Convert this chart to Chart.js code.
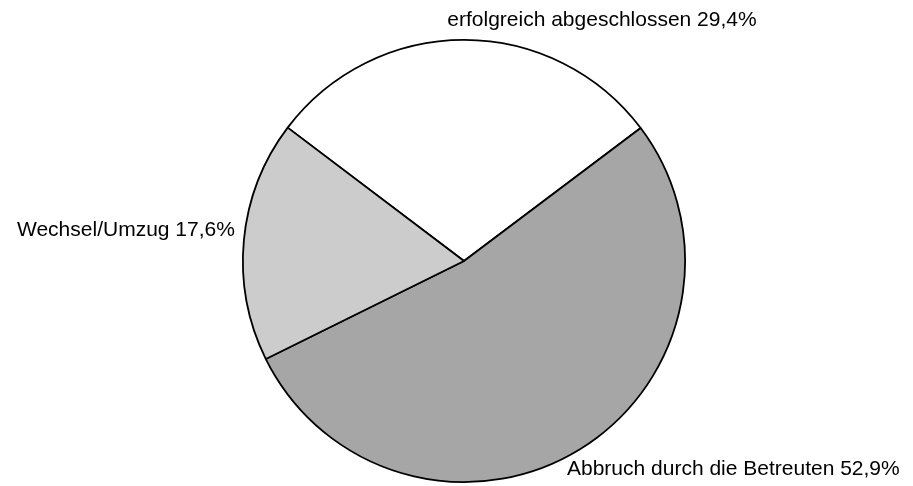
<!DOCTYPE html>
<html>
<head>
<meta charset="utf-8">
<script src="https://cdn.jsdelivr.net/npm/chart.js@4"></script>
<style>
  html, body { margin: 0; padding: 0; background: #fff; }
  #wrap { width: 913px; height: 486px; }
</style>
</head>
<body>
<div id="wrap"><canvas id="myChart"></canvas></div>
<script>
const categories = ['erfolgreich abgeschlossen', 'Abbruch durch die Betreuten', 'Wechsel/Umzug'];
const shares = [29.4, 52.9, 17.6];
const sliceColors = ['#ffffff', '#a6a6a6', '#cccccc'];

// label placement relative to the outer edge of each slice (dx, dy, align)
const labelOffsets = [
  { dx: -17, dy: -20, align: 'left' },
  { dx: -13, dy: 20, align: 'left' },
  { dx: -9, dy: -10, align: 'right' },
];

const outsideLabels = {
  id: 'outsideLabels',
  afterDatasetsDraw(chart) {
    const ctx = chart.ctx;
    const meta = chart.getDatasetMeta(0);
    ctx.save();
    ctx.font = '21px "Liberation Sans", Arial, sans-serif';
    ctx.fillStyle = '#000';
    ctx.textBaseline = 'middle';
    meta.data.forEach((arc, i) => {
      const mid = (arc.startAngle + arc.endAngle) / 2;
      const x = arc.x + Math.cos(mid) * arc.outerRadius;
      const y = arc.y + Math.sin(mid) * arc.outerRadius;
      const off = labelOffsets[i];
      ctx.textAlign = off.align;
      const txt = categories[i] + ' ' + shares[i].toFixed(1).replace('.', ',') + '%';
      ctx.fillText(txt, x + off.dx, y + off.dy);
    });
    ctx.restore();
  }
};

const myPie = new Chart('myChart', {
  type: 'pie',
  data: {
    labels: categories,
    datasets: [{
      data: shares,
      backgroundColor: sliceColors,
      borderColor: '#000',
      borderWidth: 1.8,
      borderAlign: 'center',
    }],
  },
  options: {
    responsive: true,
    maintainAspectRatio: false,
    animation: false,
    rotation: -52.9,
    layout: { padding: { top: 38, bottom: 2, left: 242, right: 227 } },
    plugins: {
      legend: { display: false },
      tooltip: { enabled: false },
    },
  },
  plugins: [outsideLabels],
});
</script>
</body>
</html>
